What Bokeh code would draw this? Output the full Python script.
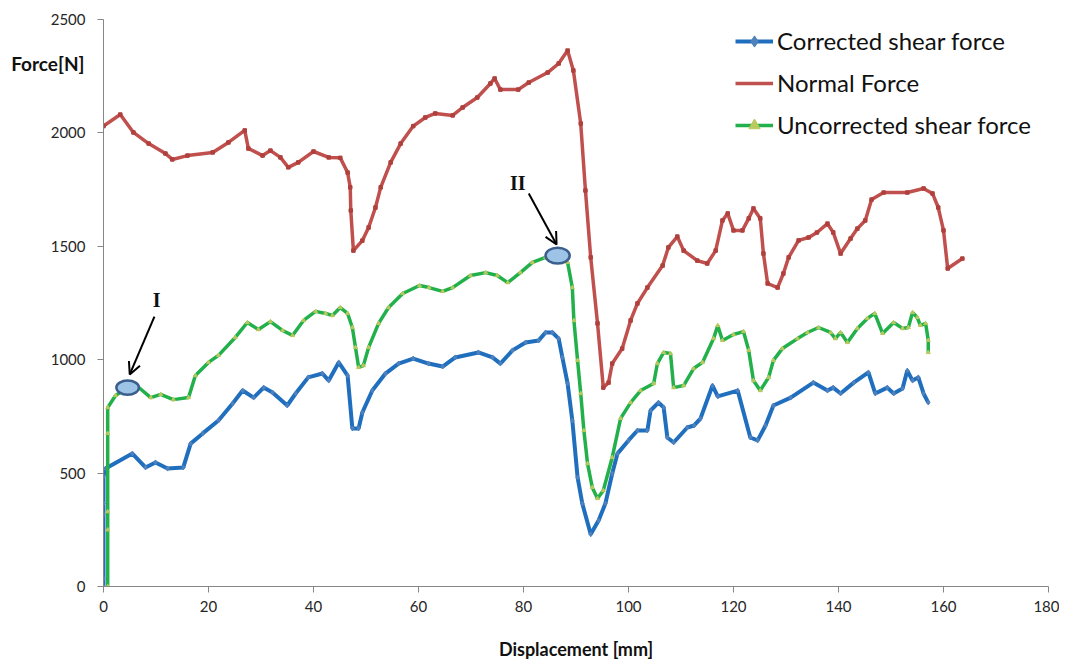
from bokeh.plotting import figure
from bokeh.models import (ColumnDataSource, Legend, LegendItem, Label, Arrow,
                          OpenHead, FixedTicker, Range1d, LinearAxis)
from bokeh.embed import file_html
from bokeh.resources import INLINE

# ---------------- data ----------------
blue_x = [0, 0, 0, 0, 0, 0.4, 5.5, 8.0, 9.9, 12.2, 15.2, 16.6, 18.9, 21.9, 24.6,
          26.5, 28.6, 30.5, 32.2, 35.0, 36.6, 39.0, 41.7, 42.9, 44.8, 46.5, 47.4,
          48.6, 49.3, 51.2, 53.7, 56.2, 59.0, 61.9, 64.6, 67.0, 71.4, 74.1, 75.6,
          77.9, 80.4, 82.9, 84.2, 85.5, 86.7, 87.4, 88.4, 89.3, 90.3, 91.2, 92.8,
          94.3, 95.6, 96.9, 97.9, 100.0, 101.7, 103.6, 104.2, 105.7, 106.7, 107.4,
          108.6, 111.2, 112.5, 113.7, 116.0, 117.0, 120.8, 123.2, 124.6, 126.1,
          127.6, 130.9, 135.2, 137.9, 139.0, 140.4, 142.9, 145.7, 147.0, 149.3,
          150.5, 152.2, 153.1, 154.1, 155.2, 156.2, 157.1]
blue_y = [0, 35, 317, 366, 485, 520, 586, 525, 547, 520, 525, 630, 675, 732, 807,
          864, 833, 877, 855, 798, 851, 922, 939, 908, 988, 930, 697, 697, 767,
          864, 939, 983, 1005, 983, 970, 1010, 1032, 1010, 983, 1041, 1076, 1085,
          1120, 1120, 1093, 1010, 895, 732, 481, 366, 230, 291, 366, 498, 586,
          644, 688, 688, 776, 811, 789, 657, 635, 701, 710, 740, 886, 838, 864,
          657, 644, 710, 798, 833, 899, 864, 877, 851, 899, 944, 851, 877, 851,
          873, 952, 908, 922, 851, 811]

red_x = [0, 3.2, 5.7, 8.6, 11.8, 13.1, 16, 20.8, 23.8, 26.9, 27.6, 30.3, 31.8,
         33.7, 35.2, 37.1, 40.0, 42.9, 45.1, 46.5, 47.0, 47.1, 47.6, 49.3, 50.5,
         51.8, 52.8, 54.7, 56.6, 59.0, 61.3, 63.2, 66.5, 68.4, 71.2, 73.7, 74.5,
         75.6, 79.0, 81.0, 84.6, 86.7, 88.4, 89.5, 90.9, 91.8, 92.8, 94.1, 95.2,
         96.2, 96.9, 98.8, 100.4, 101.7, 103.6, 106.5, 107.6, 109.3, 110.5, 113.1,
         115.0, 116.6, 117.9, 118.9, 120.0, 121.7, 122.9, 123.8, 125.1, 125.7,
         126.5, 128.4, 129.5, 130.5, 132.4, 134.3, 135.9, 137.9, 139.0, 140.4,
         142.3, 143.6, 145.1, 146.3, 148.6, 153.1, 156.2, 157.9, 159.0, 160.0,
         160.8, 163.6]
red_y = [2030, 2081, 2002, 1953, 1909, 1883, 1900, 1914, 1958, 2011, 1931, 1900,
         1922, 1892, 1848, 1870, 1918, 1892, 1890, 1825, 1760, 1658, 1481, 1525,
         1583, 1671, 1760, 1870, 1953, 2030, 2068, 2086, 2077, 2112, 2156, 2218,
         2240, 2191, 2191, 2222, 2266, 2306, 2363, 2275, 2041, 1746, 1451, 1160,
         877, 899, 983, 1049, 1173, 1248, 1318, 1415, 1495, 1543, 1481, 1437,
         1424, 1481, 1614, 1645, 1570, 1570, 1623, 1667, 1623, 1468, 1336, 1318,
         1380, 1451, 1526, 1539, 1561, 1600, 1561, 1468, 1534, 1578, 1614, 1706,
         1737, 1737, 1755, 1733, 1671, 1570, 1402, 1446]

green_x = [0.8, 0.8, 0.8, 0.8, 0.8, 2.3, 4.6, 6.5, 9.0, 10.9, 13.3, 16.2, 17.5,
           20.0, 21.9, 25.1, 27.4, 29.5, 31.8, 34.1, 36.0, 38.1, 40.4, 42.3, 43.6,
           45.1, 46.5, 47.4, 48.0, 48.6, 49.5, 50.5, 52.4, 54.3, 57.0, 60.2, 62.0,
           64.6, 66.5, 69.9, 72.8, 75.0, 77.0, 79.4, 81.7, 84.2, 86.5, 88.4, 89.3,
           89.6, 90.3, 90.9, 91.5, 92.2, 93.1, 94.1, 95.2, 96.9, 98.5, 100.4,
           102.3, 104.8, 105.5, 106.7, 108.0, 108.6, 110.5, 112.4, 114.1, 116.2,
           117.0, 117.9, 120.0, 121.9, 122.9, 123.8, 125.1, 126.7, 127.6, 129.3,
           132.2, 134.1, 136.2, 138.5, 139.4, 140.4, 141.7, 143.6, 145.5, 146.9,
           148.4, 150.5, 152.2, 153.3, 154.1, 155.0, 155.6, 156.6, 157.1, 157.1]
green_y = [0, 250, 330, 675, 789, 842, 877, 882, 833, 847, 824, 833, 930, 988,
           1019, 1098, 1164, 1133, 1168, 1129, 1107, 1173, 1213, 1204, 1195, 1230,
           1204, 1142, 1054, 966, 974, 1054, 1160, 1230, 1292, 1327, 1318, 1301,
           1318, 1371, 1384, 1371, 1340, 1384, 1429, 1451, 1459, 1429, 1318, 1173,
           997, 851, 688, 542, 437, 388, 423, 569, 741, 811, 864, 895, 983, 1032,
           1027, 877, 886, 961, 988, 1093, 1151, 1085, 1111, 1124, 1041, 908, 864,
           922, 997, 1049, 1093, 1120, 1142, 1120, 1093, 1120, 1076, 1138, 1182,
           1204, 1116, 1164, 1138, 1142, 1208, 1186, 1151, 1160, 1085, 1032]

series_names = ["Corrected shear force", "Normal Force", "Uncorrected shear force"]
x_ticks = [0, 20, 40, 60, 80, 100, 120, 140, 160, 180]
y_ticks = [0, 500, 1000, 1500, 2000, 2500]
y_title = "Force[N]"
y_title_pos = 2306
x_title = "Displacement [mm]"

# marked points: ellipse centres, annotation texts and arrows
mark_labels = ["I", "II"]
mark_x = [4.6, 86.5]
mark_y = [877, 1459]
label_x = [10.1, 78.9]
label_y = [1262, 1781]
arrow_start_x = [9.7, 81.0]
arrow_start_y = [1190, 1733]
arrow_end_x = [5.0, 86.3]
arrow_end_y = [935, 1508]

# ---------------- figure ----------------
FONT = "Lato"
p = figure(width=1059, height=662, output_backend="svg", toolbar_location=None,
           x_range=Range1d(0, 180), y_range=Range1d(0, 2500),
           min_border_left=103, min_border_right=11, min_border_top=19,
           min_border_bottom=72)
p.outline_line_color = None
p.grid.visible = False
p.background_fill_color = "white"
p.border_fill_color = "white"

for ax in (p.xaxis[0], p.yaxis[0]):
    ax.axis_line_color = "#868686"
    ax.major_tick_line_color = "#868686"
    ax.minor_tick_line_color = None
    ax.major_tick_out = 6
    ax.major_tick_in = 0
    ax.major_label_text_font = FONT
    ax.major_label_text_font_size = "15px"
    ax.major_label_text_color = "#262626"
p.xaxis.ticker = FixedTicker(ticks=x_ticks)
p.yaxis.ticker = FixedTicker(ticks=y_ticks)
p.xaxis.major_label_standoff = 8
p.yaxis.major_label_standoff = 12
p.xaxis.axis_label = x_title
p.xaxis.axis_label_text_font = FONT
p.xaxis.axis_label_text_font_style = "bold"
p.xaxis.axis_label_text_font_size = "18px"
p.xaxis.axis_label_text_color = "#111111"
p.xaxis.axis_label_standoff = 23

# horizontal y title at the top-left, drawn as the only label of a bare axis
title_axis = LinearAxis(ticker=FixedTicker(ticks=[y_title_pos]),
                        major_label_overrides={y_title_pos: y_title})
title_axis.axis_line_color = None
title_axis.major_tick_line_color = None
title_axis.minor_tick_line_color = None
title_axis.major_tick_out = 0
title_axis.major_tick_in = 0
title_axis.major_label_text_font = FONT
title_axis.major_label_text_font_style = "bold"
title_axis.major_label_text_font_size = "19px"
title_axis.major_label_text_color = "#111111"
title_axis.major_label_standoff = -37
p.add_layout(title_axis, "left")

blue_src = ColumnDataSource(dict(x=blue_x, y=blue_y))
red_src = ColumnDataSource(dict(x=red_x, y=red_y))
green_src = ColumnDataSource(dict(x=green_x, y=green_y))

bl = p.line("x", "y", source=blue_src, line_color="#1f6fbe", line_width=4)
bm = p.scatter("x", "y", source=blue_src, marker="diamond", size=5,
               fill_color="#4f81bd", line_color="#4f81bd")
rl = p.line("x", "y", source=red_src, line_color="#c0504d", line_width=3.5)
rm = p.scatter("x", "y", source=red_src, marker="square", size=3.5,
               fill_color="#b0403d", line_color="#b0403d")
gl = p.line("x", "y", source=green_src, line_color="#22b04b", line_width=3.5)
gm = p.scatter("x", "y", source=green_src, marker="triangle", size=4,
               fill_color="#b9c95e", line_color="#b9c95e")

# ellipses and arrows
p.ellipse(x=mark_x, y=mark_y, width=[4.3, 4.6], height=[62, 70],
          fill_color="#9dc3e6", line_color="#3b5e8c", line_width=2.5)
for i in range(2):
    p.add_layout(Arrow(end=OpenHead(size=12, line_width=2, line_color="black"),
                       x_start=arrow_start_x[i], y_start=arrow_start_y[i],
                       x_end=arrow_end_x[i], y_end=arrow_end_y[i],
                       line_width=2, line_color="black"))
    p.add_layout(Label(x=label_x[i], y=label_y[i], text=mark_labels[i],
                       text_font="Liberation Serif", text_font_style="bold",
                       text_font_size="20px", text_color="#111111",
                       text_align="center", text_baseline="middle"))

legend = Legend(items=[
    LegendItem(label=series_names[0], renderers=[bl, bm]),
    LegendItem(label=series_names[1], renderers=[rl]),
    LegendItem(label=series_names[2], renderers=[gl, gm]),
], location=(632, 447), orientation="vertical")
legend.border_line_color = None
legend.background_fill_alpha = 0
legend.label_text_font = FONT
legend.label_text_font_size = "24px"
legend.label_text_color = "#111111"
legend.glyph_width = 38
legend.glyph_height = 28
legend.label_height = 28
legend.label_standoff = 4
legend.spacing = 13
legend.padding = 0
legend.margin = 0
p.add_layout(legend, "center")

open("out.html", "w").write(file_html(p, INLINE))
